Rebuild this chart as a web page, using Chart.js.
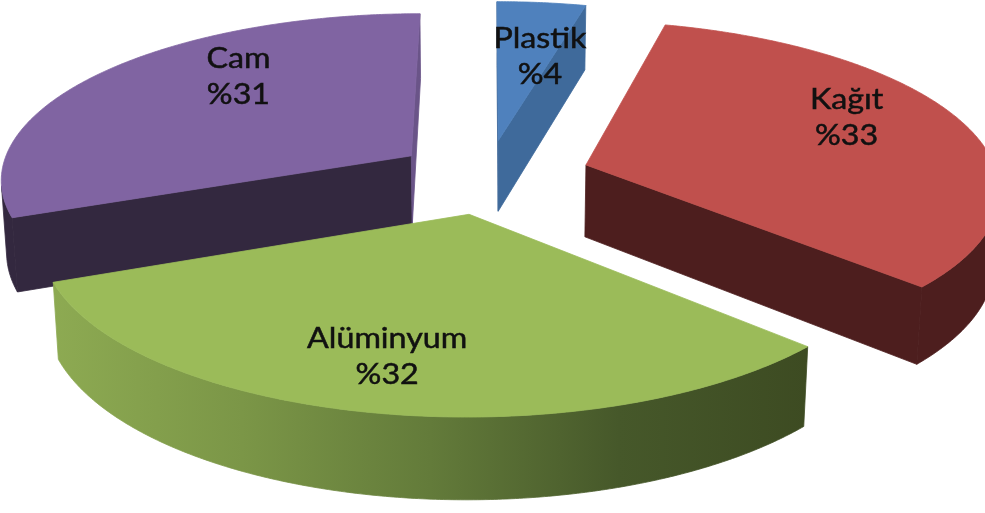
<!DOCTYPE html>
<html>
<head>
<meta charset="utf-8">
<title>Atık dağılımı</title>
<script src="https://cdn.jsdelivr.net/npm/chart.js@4.4.1/dist/chart.umd.min.js"></script>
<style>
  html, body { margin: 0; padding: 0; background: #ffffff; }
  #wrap { width: 985px; height: 513px; }
  canvas { display: block; }
</style>
</head>
<body>
<div id="wrap"><canvas id="chart" width="985" height="513"></canvas></div>
<script>
// Waste composition shares (percent)
const categories = ['Plastik', 'Kağıt', 'Alüminyum', 'Cam'];
const shares = [4, 33, 32, 31];

// Slice styling
const topColors = ['#4F81BD', '#C0504D', '#9BBB59', '#8064A2'];
const sideColors = [
  ['#3D6596'],
  ['#4D1E1E'],
  ['#8DAA52', '#7B9647', '#637B3A', '#46582A', '#3D4B22'],
  ['#33283F']
];
const endFaceColors = ['#3F6A9B', '#4D1E1E', '#3D4B22', '#6A5488'];
const explodeOffsets = [93, 104, 93, 93];

// Label placement inside each slice: fraction along the slice angle, fraction of radius
const labelPlacement = [
  { along: 0.77, radius: 0.59 },
  { along: 0.43, radius: 0.74 },
  { along: 0.52, radius: 0.75 },
  { along: 0.63, radius: 0.71 }
];

// Camera for the tilted 3D view (distance and thickness in pie radii)
const view = { elevation: 23.7, distance: 7.04, thickness: 0.194 };
const labelFont = { family: 'Lato', size: 28, stretch: 1.15, lineGap: 36, capHeight: 20 };

const pie3d = {
  id: 'pie3d',
  beforeDatasetsDraw(chart) {
    const ctx = chart.ctx;
    const meta = chart.getDatasetMeta(0);
    const arcs = meta.data;
    if (!arcs.length) return false;
    const el = view.elevation * Math.PI / 180;
    const sinE = Math.sin(el), cosE = Math.cos(el);
    const R = arcs[0].outerRadius;
    const D = view.distance * R;
    const H = view.thickness * R;
    const cx = arcs[0].x, cy = arcs[0].y;
    const camY = -D * cosE;

    const project = (X, Y, Z) => {
      const d = D + Y * cosE - Z * sinE;
      return [cx + D * X / d, cy - D * (Y * sinE + Z * cosE) / d];
    };

    const slices = arcs.map((arc, i) => {
      const a0 = arc.startAngle + Math.PI / 2;
      const a1 = arc.endAngle + Math.PI / 2;
      const mid = (a0 + a1) / 2;
      const off = arc.options.offset || 0;
      return { i, arc, a0, a1, mid, ox: off * Math.sin(mid), oy: off * Math.cos(mid) };
    }).sort((p, q) => q.oy - p.oy);

    const poly = (pts, style) => {
      ctx.beginPath();
      pts.forEach((p, k) => (k ? ctx.lineTo(p[0], p[1]) : ctx.moveTo(p[0], p[1])));
      ctx.closePath();
      ctx.fillStyle = style;
      ctx.strokeStyle = style;
      ctx.lineWidth = 0.8;
      ctx.fill();
      ctx.stroke();
    };

    const shade = (stops, pts) => {
      if (stops.length === 1) return stops[0];
      let xmin = Infinity, xmax = -Infinity;
      pts.forEach(p => { xmin = Math.min(xmin, p[0]); xmax = Math.max(xmax, p[0]); });
      const g = ctx.createLinearGradient(xmin, 0, xmax, 0);
      stops.forEach((c, k) => g.addColorStop(k / (stops.length - 1), c));
      return g;
    };

    const step = Math.PI / 360;

    ctx.save();
    slices.forEach(s => {
      const { ox, oy, a0, a1, i } = s;
      const pt = (t, r, z) => project(ox + r * Math.sin(t), oy + r * Math.cos(t), z);
      const stops = sideColors[i];
      const apexTop = project(ox, oy, 0), apexBot = project(ox, oy, -H);

      // radial cut faces
      const n0 = [-Math.cos(a0), Math.sin(a0)];
      if (-ox * n0[0] + (camY - oy) * n0[1] > 0) {
        const pts = [apexTop, pt(a0, R, 0), pt(a0, R, -H), apexBot];
        poly(pts, shade(stops, pts));
      }
      const n1 = [Math.cos(a1), -Math.sin(a1)];
      if (-ox * n1[0] + (camY - oy) * n1[1] > 0) {
        const pts = [apexTop, pt(a1, R, 0), pt(a1, R, -H), apexBot];
        poly(pts, endFaceColors[i]);
      }

      // outer curved wall, front-facing parts only
      const visible = t => {
        const px = ox + R * Math.sin(t), py = oy + R * Math.cos(t);
        return -px * Math.sin(t) + (camY - py) * Math.cos(t) > 0;
      };
      const ts = [];
      for (let t = a0; t < a1; t += step) ts.push(t);
      ts.push(a1);
      let run = [];
      const flush = () => {
        if (run.length > 1) {
          const topPts = run.map(t => pt(t, R, 0));
          const botPts = run.map(t => pt(t, R, -H)).reverse();
          const pts = topPts.concat(botPts);
          poly(pts, shade(stops, pts));
        }
        run = [];
      };
      ts.forEach(t => { if (visible(t)) run.push(t); else flush(); });
      flush();

      // top face
      const top = [apexTop].concat(ts.map(t => pt(t, R, 0)));
      poly(top, s.arc.options.backgroundColor);
    });

    // data labels
    ctx.fillStyle = '#111111';
    ctx.strokeStyle = '#111111';
    ctx.lineWidth = 0.5;
    ctx.textAlign = 'center';
    ctx.textBaseline = 'alphabetic';
    ctx.font = labelFont.size + 'px ' + labelFont.family;
    const values = chart.data.datasets[0].data;
    slices.forEach(s => {
      const lp = labelPlacement[s.i];
      const t = s.a0 + lp.along * (s.a1 - s.a0);
      const r = lp.radius * R;
      const p = project(s.ox + r * Math.sin(t), s.oy + r * Math.cos(t), 0);
      const lines = [chart.data.labels[s.i], '%' + values[s.i]];
      lines.forEach((txt, k) => {
        const base = p[1] - labelFont.lineGap / 2 + labelFont.capHeight / 2 + k * labelFont.lineGap;
        ctx.save();
        ctx.translate(p[0], base);
        ctx.scale(labelFont.stretch, 1);
        ctx.fillText(txt, 0, 0);
        ctx.strokeText(txt, 0, 0);
        ctx.restore();
      });
    });
    ctx.restore();
    return false;
  }
};

new Chart(document.getElementById('chart'), {
  type: 'pie',
  data: {
    labels: categories,
    datasets: [{
      data: shares,
      backgroundColor: topColors,
      offset: explodeOffsets,
      borderWidth: 0
    }]
  },
  options: {
    responsive: false,
    animation: false,
    radius: 412,
    layout: { padding: { left: 0, right: 11, top: 0, bottom: 160 } },
    events: [],
    plugins: {
      legend: { display: false },
      tooltip: { enabled: false }
    }
  },
  plugins: [pie3d]
});
</script>
</body>
</html>
